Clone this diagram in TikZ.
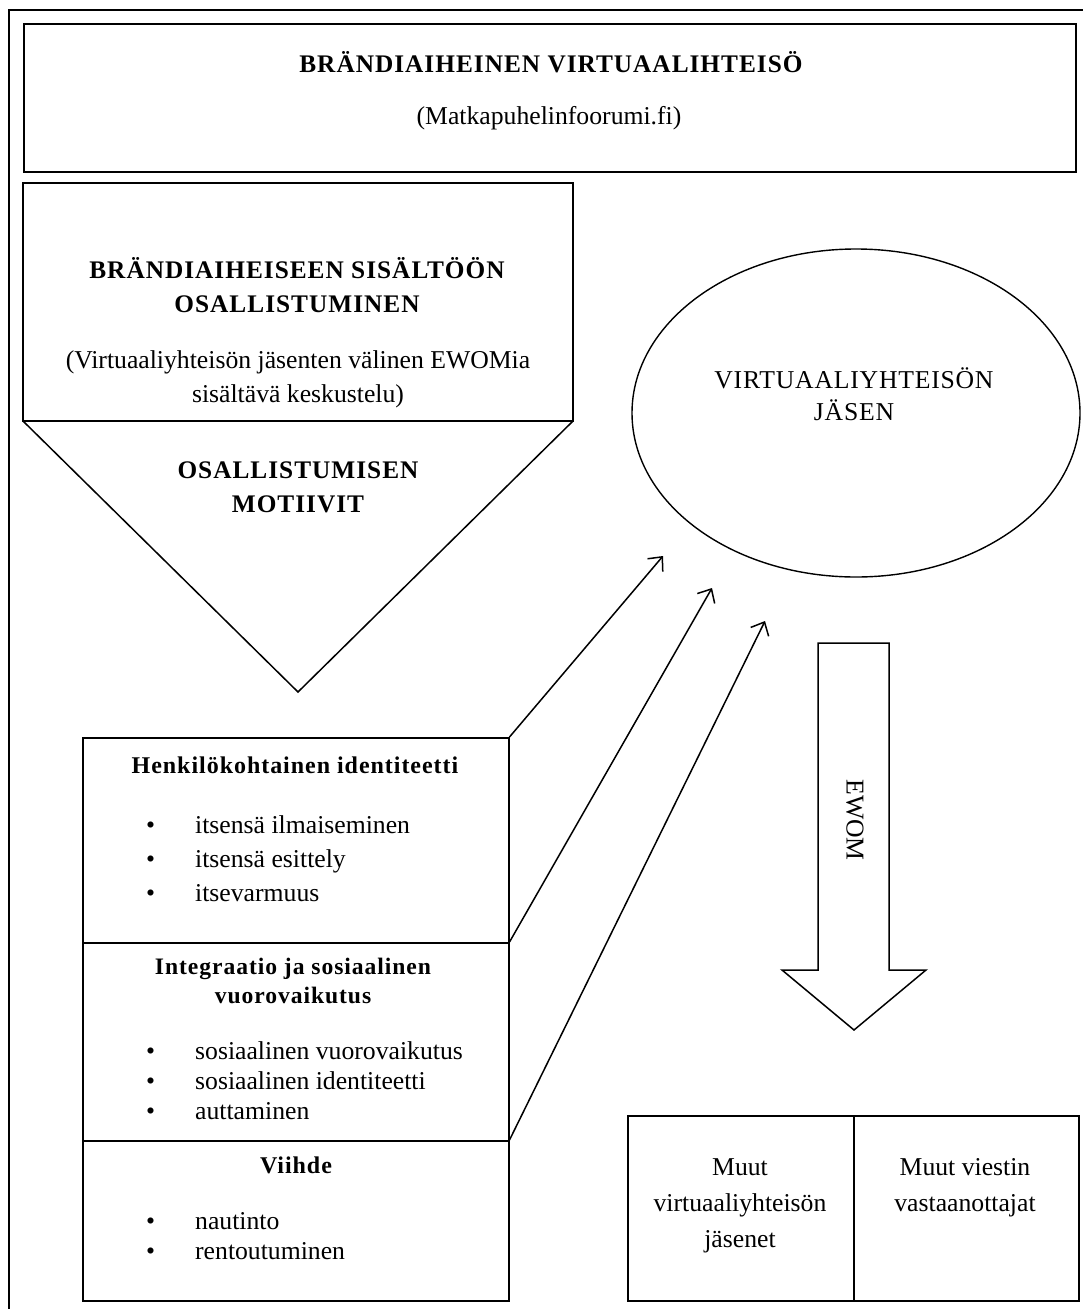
\documentclass[tikz,border=0pt]{standalone}
\usepackage{fontspec}
\setmainfont{Liberation Serif}
\newfontfamily\headfont[LetterSpace=4]{Liberation Serif}
\newfontfamily\capsfont[LetterSpace=3]{Liberation Serif}
\usetikzlibrary{arrows.meta,shapes.geometric}

\begin{document}
\begin{tikzpicture}[x=1pt,y=-1pt,
  outline/.style={line width=1.5pt, line join=miter},
  box/.style={draw, outline, rectangle, inner sep=0pt, anchor=north west},
  plain/.style={font=\fontsize{25.7}{34}\selectfont, align=center, inner sep=0pt},
  head/.style={font=\headfont\fontsize{24}{34}\selectfont\bfseries, align=center, inner sep=0pt},
  capshead/.style={font=\headfont\fontsize{25.3}{34}\selectfont\bfseries, align=center, inner sep=0pt},
  item/.style={font=\fontsize{25.7}{30}\selectfont, anchor=west, inner sep=0pt,
               text height=18pt, text depth=5pt},
  link/.style={line width=1.5pt, -{Straight Barb[length=11pt,width=20pt,line width=1.5pt]}},
]
\useasboundingbox (0,0) rectangle (1083,1309);
\fill[white] (0,0) rectangle (1083,1309);

% outer frame
\draw[line width=1.7pt] (1083,10) -- (9,10) -- (9,1309);

% community header box
\node[box, minimum width=1052pt, minimum height=148pt] (community) at (23,23) {};
\node[capshead] (communityname) at (551,62) {BRÄNDIAIHEINEN VIRTUAALIHTEISÖ};
\node[plain] (forum) at (549,118) {(Matkapuhelinfoorumi.fi)};

% participation box with downward point
\coordinate (pA) at (23,183);
\coordinate (pB) at (573,183);
\coordinate (pC) at (573,421);
\coordinate (pD) at (23,421);
\coordinate (pTip) at (298,692);
\draw[outline] (pA) -- (pB) -- (pC) -- (pD) -- cycle;
\draw[outline] (pD) -- (pTip) -- (pC);
\node[capshead] (participation) at (297,285) {BRÄNDIAIHEISEEN SISÄLTÖÖN\\OSALLISTUMINEN};
\node[plain] (discussion) at (298,379) {(Virtuaaliyhteisön jäsenten välinen EWOMia\\sisältävä keskustelu)};
\node[capshead] (motives) at (298,487) {OSALLISTUMISEN\\MOTIIVIT};

% community member
\node[draw, ellipse, line width=1.4pt, minimum width=448pt, minimum height=328pt] (member) at (856,413) {};
\node[plain, font=\capsfont\fontsize{25.7}{32}\selectfont] (membertext) at (854,394) {VIRTUAALIYHTEISÖN\\JÄSEN};

% motive boxes
\node[box, minimum width=426pt, minimum height=205pt] (henk) at (82,737) {};
\node[box, minimum width=426pt, minimum height=198pt] (integ) at (82,942) {};
\node[box, minimum width=426pt, minimum height=160pt] (viihde) at (82,1140) {};

\node[head] (henkhead) at (295,765) {Henkilökohtainen identiteetti};
\node[item] (h1) at (146,827) {\makebox[49pt][l]{\textbullet}itsensä ilmaiseminen};
\node[item] (h2) at (146,861) {\makebox[49pt][l]{\textbullet}itsensä esittely};
\node[item] (h3) at (146,895) {\makebox[49pt][l]{\textbullet}itsevarmuus};

\node[head, font=\headfont\fontsize{23.6}{29}\selectfont\bfseries] (integhead) at (293,981) {Integraatio ja sosiaalinen\\vuorovaikutus};
\node[item] (i1) at (146,1053) {\makebox[49pt][l]{\textbullet}sosiaalinen vuorovaikutus};
\node[item] (i2) at (146,1083) {\makebox[49pt][l]{\textbullet}sosiaalinen identiteetti};
\node[item] (i3) at (146,1113) {\makebox[49pt][l]{\textbullet}auttaminen};

\node[head] (viihdehead) at (296,1165) {Viihde};
\node[item] (v1) at (146,1223) {\makebox[49pt][l]{\textbullet}nautinto};
\node[item] (v2) at (146,1253) {\makebox[49pt][l]{\textbullet}rentoutuminen};

% motives lead to the member
\coordinate (t1) at (663,556);
\coordinate (t2) at (712,588);
\coordinate (t3) at (765,621);
\draw[link] (henk.north east) -- (t1);
\draw[link] (integ.north east) -- (t2);
\draw[link] (viihde.north east) -- (t3);

% EWOM block arrow
\coordinate (e1) at (818,643);
\coordinate (e2) at (889,643);
\coordinate (e3) at (889,970);
\coordinate (e4) at (926,970);
\coordinate (eTip) at (854,1030);
\coordinate (e5) at (782,970);
\coordinate (e6) at (818,970);
\draw[outline] (e1) -- (e2) -- (e3) -- (e4) -- (eTip) -- (e5) -- (e6) -- cycle;
\node[plain, rotate=-90] (ewom) at (855,820) {EWOM};

% recipients
\node[box, minimum width=226pt, minimum height=185pt] (others) at (627,1115) {};
\node[box, minimum width=225pt, minimum height=185pt] (receivers) at (853,1115) {};
\node[plain, font=\fontsize{25.7}{36}\selectfont] (otherstext) at (740,1206) {Muut\\virtuaaliyhteisön\\jäsenet};
\node[plain, font=\fontsize{25.7}{36}\selectfont] (receiverstext) at (965,1188) {Muut viestin\\vastaanottajat};
\end{tikzpicture}
\end{document}
